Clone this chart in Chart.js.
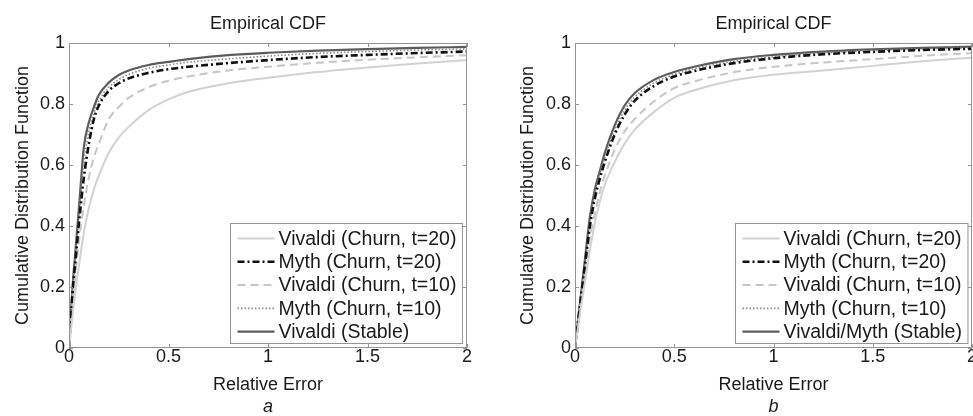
<!DOCTYPE html>
<html><head><meta charset="utf-8">
<script src="https://cdn.jsdelivr.net/npm/chart.js@4"></script>
<style>
html,body{margin:0;padding:0;background:#fff;overflow:hidden;width:973px;height:416px;}
#wa{position:absolute;left:0;top:0;width:486px;height:416px;}
#wb{position:absolute;left:486px;top:0;width:506px;height:416px;}
</style></head><body>
<div id="wa"><canvas id="ca" width="486" height="416"></canvas></div>
<div id="wb"><canvas id="cb" width="506" height="416"></canvas></div>
<script>
// ---- data ----
const relErr = [0, 0.01, 0.02, 0.03, 0.05, 0.075, 0.1, 0.125, 0.15, 0.2, 0.25, 0.3, 0.4, 0.5, 0.6, 0.8, 1.0, 1.25, 1.5, 1.75, 2.0];
const xTicks = [0, 0.5, 1, 1.5, 2];
const xTickLabels = ['0', '0.5', '1', '1.5', '2'];
const yTicks = [0, 0.2, 0.4, 0.6, 0.8, 1];
const yTickLabels = ['0', '0.2', '0.4', '0.6', '0.8', '1'];
const panelTitle = 'Empirical CDF';
const xTitle = 'Relative Error';
const yTitle = 'Cumulative Distribution Function';
const namesA = ['Vivaldi (Churn, t=20)', 'Myth (Churn, t=20)', 'Vivaldi (Churn, t=10)', 'Myth (Churn, t=10)', 'Vivaldi (Stable)'];
const namesB = ['Vivaldi (Churn, t=20)', 'Myth (Churn, t=20)', 'Vivaldi (Churn, t=10)', 'Myth (Churn, t=10)', 'Vivaldi/Myth (Stable)'];

const aVivaldiT20 = [0, 0.06, 0.12, 0.175, 0.27, 0.38, 0.46, 0.52, 0.565, 0.64, 0.69, 0.725, 0.78, 0.815, 0.84, 0.868, 0.886, 0.905, 0.92, 0.933, 0.944];
const aMythT20    = [0, 0.10, 0.20, 0.27, 0.41, 0.56, 0.67, 0.75, 0.795, 0.843, 0.868, 0.884, 0.902, 0.914, 0.922, 0.934, 0.944, 0.954, 0.961, 0.967, 0.972];
const aVivaldiT10 = [0, 0.08, 0.16, 0.23, 0.35, 0.47, 0.56, 0.625, 0.67, 0.75, 0.79, 0.82, 0.855, 0.876, 0.89, 0.91, 0.922, 0.935, 0.945, 0.953, 0.96];
const aMythT10    = [0, 0.11, 0.21, 0.29, 0.44, 0.61, 0.71, 0.77, 0.81, 0.855, 0.88, 0.897, 0.917, 0.928, 0.937, 0.948, 0.957, 0.966, 0.972, 0.977, 0.981];
const aStable     = [0, 0.12, 0.22, 0.30, 0.46, 0.66, 0.74, 0.79, 0.83, 0.87, 0.895, 0.91, 0.928, 0.938, 0.947, 0.96, 0.968, 0.975, 0.98, 0.984, 0.987];

const bVivaldiT20 = [0, 0.045, 0.09, 0.135, 0.215, 0.32, 0.41, 0.48, 0.535, 0.61, 0.67, 0.715, 0.775, 0.82, 0.845, 0.878, 0.896, 0.91, 0.925, 0.94, 0.952];
const bMythT20    = [0, 0.055, 0.11, 0.165, 0.27, 0.40, 0.49, 0.555, 0.61, 0.70, 0.765, 0.81, 0.86, 0.89, 0.908, 0.934, 0.95, 0.963, 0.971, 0.977, 0.981];
const bVivaldiT10 = [0, 0.05, 0.10, 0.15, 0.245, 0.36, 0.44, 0.51, 0.565, 0.65, 0.71, 0.75, 0.81, 0.852, 0.874, 0.904, 0.922, 0.936, 0.947, 0.958, 0.967];
const bMythT10    = [0, 0.058, 0.115, 0.17, 0.28, 0.415, 0.505, 0.57, 0.625, 0.715, 0.78, 0.822, 0.87, 0.897, 0.915, 0.94, 0.955, 0.967, 0.975, 0.98, 0.984];
const bStable     = [0, 0.06, 0.12, 0.175, 0.29, 0.43, 0.52, 0.58, 0.64, 0.73, 0.795, 0.835, 0.88, 0.905, 0.922, 0.947, 0.961, 0.972, 0.979, 0.984, 0.988];

// ---- styles ----
const FAMILY = '"Liberation Sans", Arial, sans-serif';
const TXT = '#1a1a1a';
const lineStyles = [
  {borderColor: '#d2d2d2', borderWidth: 2, borderDash: []},
  {borderColor: '#111111', borderWidth: 2.6, borderDash: [7, 3, 2, 3]},
  {borderColor: '#c6c6c6', borderWidth: 2, borderDash: [8, 5]},
  {borderColor: '#8a8a8a', borderWidth: 1.6, borderDash: [1.5, 2]},
  {borderColor: '#5c5c5c', borderWidth: 2.2, borderDash: []}
];

const framePlugin = {
  id: 'frame',
  afterDraw(chart, args, opts) {
    const {ctx, chartArea: ca, scales: {x, y}} = chart;
    ctx.save();
    // axes box + inward ticks
    ctx.strokeStyle = '#949494';
    ctx.lineWidth = 1;
    ctx.setLineDash([]);
    ctx.strokeRect(Math.round(ca.left) + 0.5, Math.round(ca.top) + 0.5, Math.round(ca.right - ca.left) - 1, Math.round(ca.bottom - ca.top) - 1);
    const L = 4;
    ctx.beginPath();
    xTicks.forEach(v => {
      const p = Math.round(x.getPixelForValue(v)) + 0.5;
      ctx.moveTo(p, ca.bottom); ctx.lineTo(p, ca.bottom - L);
      ctx.moveTo(p, ca.top); ctx.lineTo(p, ca.top + L);
    });
    yTicks.forEach(v => {
      const p = Math.round(y.getPixelForValue(v)) + 0.5;
      ctx.moveTo(ca.left, p); ctx.lineTo(ca.left + L, p);
      ctx.moveTo(ca.right, p); ctx.lineTo(ca.right - L, p);
    });
    ctx.stroke();

    // legend box
    const names = opts.names;
    ctx.font = '19.5px ' + FAMILY;
    const maxW = Math.max(...names.map(n => ctx.measureText(n).width));
    const padL = 7, sample = 37, gap = 4, padR = 6;
    const boxW = padL + sample + gap + maxW + padR;
    const boxH = 120;
    const bx = Math.round(ca.right - 5 - boxW) + 0.5;
    const by = Math.round(ca.bottom - 5 - boxH) + 0.5;
    ctx.fillStyle = '#ffffff';
    ctx.fillRect(bx, by, boxW, boxH);
    ctx.strokeStyle = '#949494';
    ctx.strokeRect(bx, by, boxW, boxH);
    chart.data.datasets.forEach((ds, i) => {
      const cy = by + 15 + i * 23.3;
      ctx.save();
      ctx.strokeStyle = ds.borderColor;
      ctx.lineWidth = ds.borderWidth;
      ctx.setLineDash(ds.borderDash || []);
      ctx.beginPath();
      ctx.moveTo(bx + padL, cy);
      ctx.lineTo(bx + padL + sample, cy);
      ctx.stroke();
      ctx.restore();
      ctx.fillStyle = TXT;
      ctx.textAlign = 'left';
      ctx.textBaseline = 'middle';
      ctx.fillText(names[i], bx + padL + sample + gap, cy + 1);
    });

    // panel title and sub label
    const cx = (ca.left + ca.right) / 2;
    ctx.fillStyle = TXT;
    ctx.textAlign = 'center';
    ctx.textBaseline = 'middle';
    ctx.font = '18px ' + FAMILY;
    ctx.fillText(panelTitle, cx, 24);
    ctx.font = 'italic 18px ' + FAMILY;
    ctx.fillText(opts.sub, cx, 407);
    ctx.restore();
  }
};

function makeChart(id, series, names, sub, yWidth, yTitlePad, padRight) {
  new Chart(document.getElementById(id), {
    type: 'line',
    data: {
      datasets: series.map((s, i) => Object.assign({
        label: names[i],
        data: relErr.map((xv, j) => ({x: xv, y: s[j]})),
        fill: false,
        pointRadius: 0,
        cubicInterpolationMode: 'monotone'
      }, lineStyles[i]))
    },
    options: {
      responsive: false,
      animation: false,
      devicePixelRatio: 1,
      layout: {padding: {left: 0, top: 43, right: padRight, bottom: 0}},
      plugins: {
        legend: {display: false},
        tooltip: {enabled: false},
        frame: {names: names, sub: sub}
      },
      scales: {
        x: {
          type: 'linear', min: 0, max: 2,
          afterBuildTicks(s) { s.ticks = xTicks.map(v => ({value: v})); },
          afterFit(s) { s.height = 68; },
          ticks: {
            callback: v => xTickLabels[xTicks.indexOf(v)],
            font: {family: FAMILY, size: 18, lineHeight: 1},
            color: TXT, padding: 0, maxRotation: 0, autoSkip: false
          },
          grid: {display: false, drawTicks: false},
          border: {display: false},
          title: {display: true, text: xTitle, font: {family: FAMILY, size: 18}, color: TXT, padding: {top: 0, bottom: 20}}
        },
        y: {
          type: 'linear', min: 0, max: 1,
          afterBuildTicks(s) { s.ticks = yTicks.map(v => ({value: v})); },
          afterFit(s) { s.width = yWidth; },
          ticks: {
            callback: v => yTickLabels[yTicks.indexOf(v)],
            font: {family: FAMILY, size: 18, lineHeight: 1},
            color: TXT, padding: 4, autoSkip: false
          },
          grid: {display: false, drawTicks: false},
          border: {display: false},
          title: {display: true, text: yTitle, font: {family: FAMILY, size: 18}, color: TXT, padding: {top: yTitlePad, bottom: 0}}
        }
      }
    },
    plugins: [framePlugin]
  });
}

makeChart('ca', [aVivaldiT20, aMythT20, aVivaldiT10, aMythT10, aStable], namesA, 'a', 69, 12, 19);
makeChart('cb', [bVivaldiT20, bMythT20, bVivaldiT10, bMythT10, bStable], namesB, 'b', 89, 31, 20);
</script>
</body></html>
